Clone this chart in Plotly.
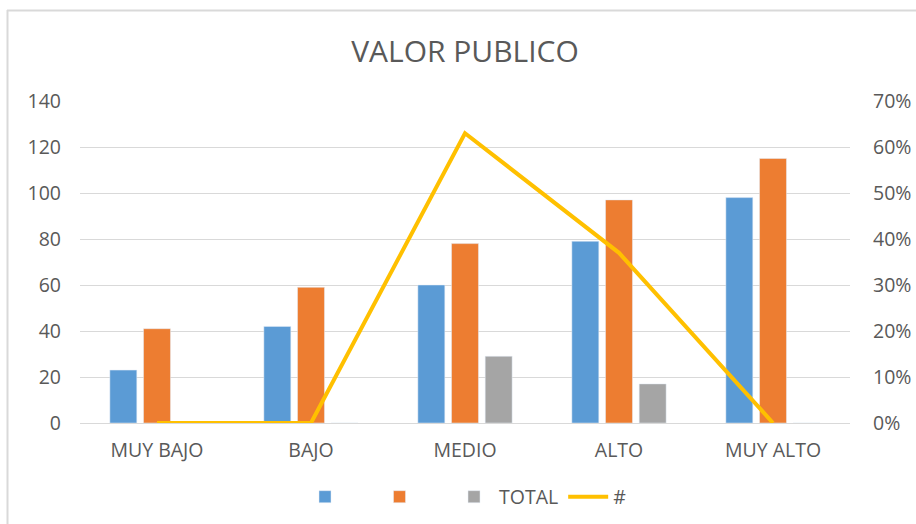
import plotly.graph_objects as go

categories = ["MUY BAJO", "BAJO", "MEDIO", "ALTO", "MUY ALTO"]
serie_1 = [23, 42, 60, 79, 98]
serie_2 = [41, 59, 78, 97, 115]
total = [0, 0, 29, 17, 0]
pct = [0.0, 0.0, 0.63, 0.37, 0.0]
left_ticks = [0, 20, 40, 60, 80, 100, 120, 140]
right_ticks = [0, 0.1, 0.2, 0.3, 0.4, 0.5, 0.6, 0.7]

W, H = 916, 524
L, R, T, B = 80, 66, 101, 101
pw, ph = W - L - R, H - T - B

def px_x(x):
    return (x - L) / pw

def px_y(y):
    return (H - B - y) / ph

font_family = "Open Sans, Noto Sans, sans-serif"
grey_text = "#595959"
fs = 19.5

fig = go.Figure()
fig.add_trace(go.Bar(x=categories, y=serie_1, name="\u2002\u2002", marker=dict(color="#5B9BD5")))
fig.add_trace(go.Bar(x=categories, y=serie_2, name="\u2002\u2002", marker=dict(color="#ED7D31")))
fig.add_trace(go.Bar(x=categories, y=total, name="TOTAL", marker=dict(color="#A5A5A5")))
fig.add_trace(go.Scatter(x=categories, y=pct, name="#", mode="lines", yaxis="y2",
                         line=dict(color="#FFC000", width=4)))

fig.update_layout(
    width=W, height=H,
    margin=dict(l=L, r=R, t=T, b=B, autoexpand=False),
    paper_bgcolor="white", plot_bgcolor="white",
    font=dict(family=font_family, color=grey_text, size=fs),
    title=dict(text="VALOR PUBLICO", x=0.5, xanchor="center", xref="paper",
               y=1 - 51 / H, yanchor="middle", font=dict(size=30, color=grey_text)),
    barmode="group", bargap=0.344, bargroupgap=0.2,
    xaxis=dict(showgrid=False, showline=False, ticks="", tickfont=dict(size=fs), ticklabelstandoff=13,
               automargin=False),
    yaxis=dict(range=[0, 140], tickvals=left_ticks, showgrid=True, gridcolor="#D9D9D9", gridwidth=1,
               zeroline=True, zerolinecolor="#D9D9D9", zerolinewidth=1, showline=False, ticks="",
               ticklabelstandoff=18, tickfont=dict(size=fs), automargin=False),
    yaxis2=dict(range=[0, 0.7], tickvals=right_ticks, tickformat=".0%", overlaying="y", side="right",
                showgrid=False, zeroline=False, showline=False, ticks="", ticklabelstandoff=22,
                tickfont=dict(size=fs), automargin=False),
    legend=dict(orientation="h", x=px_x(466), xanchor="center", y=px_y(497), yanchor="middle",
                font=dict(size=fs), itemwidth=40, bgcolor="rgba(0,0,0,0)", traceorder="normal"),
    shapes=[
        dict(type="line", xref="paper", yref="paper", x0=px_x(7), x1=px_x(W + 5), y0=px_y(10.5), y1=px_y(10.5),
             line=dict(color="#D9D9D9", width=2), layer="above"),
        dict(type="line", xref="paper", yref="paper", x0=px_x(7.5), x1=px_x(7.5), y0=px_y(10), y1=px_y(H + 5),
             line=dict(color="#D9D9D9", width=2), layer="above"),
    ],
)

fig.write_html("out.html", config={"displayModeBar": False},
               post_script="document.body.style.margin='0';document.body.style.padding='0';")
